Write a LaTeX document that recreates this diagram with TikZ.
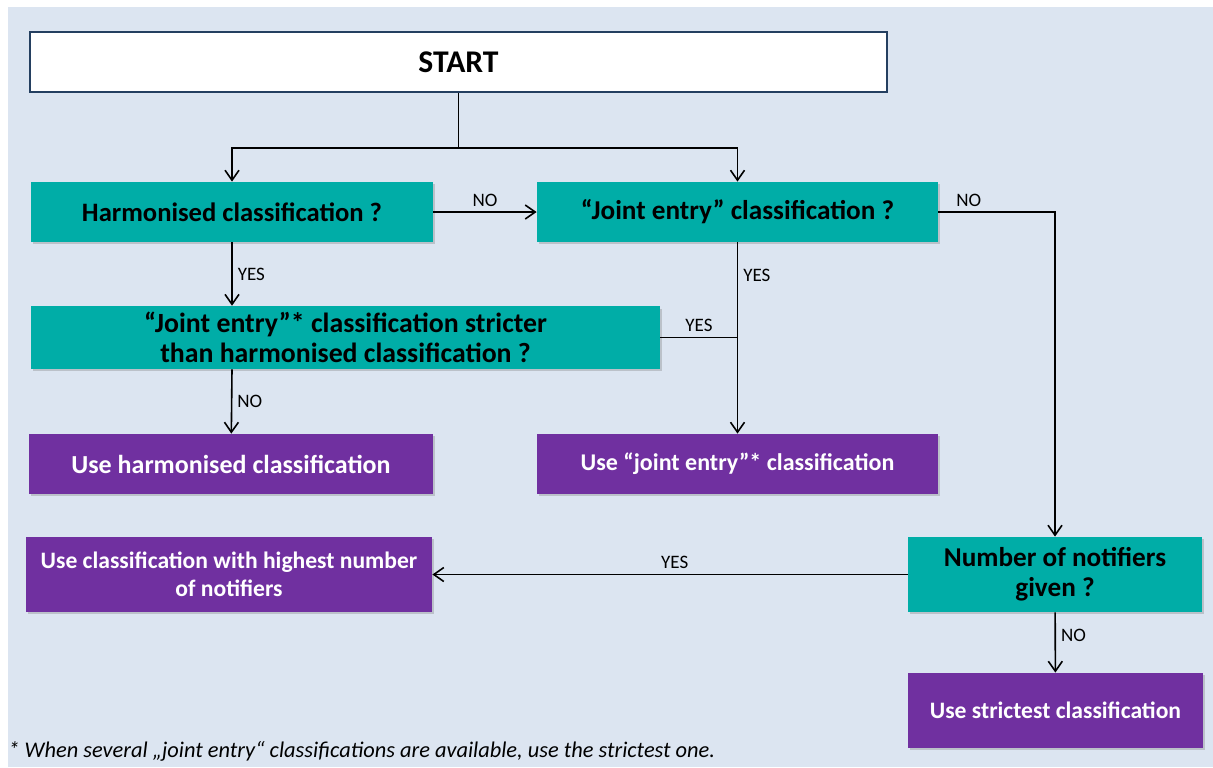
\documentclass[tikz,border=0pt]{standalone}
\usepackage{fontspec}
\setmainfont{Carlito}
\usetikzlibrary{arrows.meta,positioning,shadows}
\definecolor{bg}{HTML}{DCE5F1}
\definecolor{navy}{HTML}{243F60}
\definecolor{qcol}{HTML}{00ADA7}
\definecolor{ucol}{HTML}{7030A0}
\newcommand{\bsize}[1]{\bfseries\fontsize{#1}{15}\selectfont}
\tikzset{
  box/.style={align=center,inner sep=3pt,font=\bsize{13.3},
    drop shadow={shadow xshift=1.2pt,shadow yshift=-1.2pt,opacity=0.35}},
  qbox/.style={box,fill=qcol,text=black},
  ubox/.style={box,fill=ucol,text=white},
  ar/.style={-{Straight Barb[length=5pt,width=7pt]},thick},
  ln/.style={thick},
  lbl/.style={font=\fontsize{9.5}{11}\selectfont,inner sep=2.5pt},
}

\begin{document}
\begin{tikzpicture}[x=0.5pt,y=-0.5pt]
\useasboundingbox (0,0) rectangle (1213,767);
\fill[bg] (8,7) rectangle (1213,767);
% boxes
\node[draw=navy,thick,fill=white,minimum width=428.5pt,minimum height=30pt,
  font=\bsize{15.8}] (start) at (458.5,62) {START};
\node[qbox,minimum width=201pt,minimum height=30pt] (harm) at (232,212) {Harmonised classification ?};
\node[qbox,minimum width=200.5pt,minimum height=30pt,font=\bsize{13.6}] (joint) at (737.5,212) {“Joint entry” classification ?};
\node[qbox,minimum width=314.5pt,minimum height=30.5pt,font=\bsize{13.9}] (strict) at (345.5,337.5)
  {“Joint entry”* classification stricter\\than harmonised classification ?};
\node[ubox,minimum width=202pt,minimum height=30pt,font=\bsize{13}] (useh) at (231,464) {Use harmonised classification};
\node[ubox,minimum width=200.5pt,minimum height=30pt,font=\bsize{12}] (usej) at (737.5,464) {Use “joint entry”* classification};
\node[ubox,minimum width=203pt,minimum height=37.5pt,font=\bfseries\fontsize{11.8}{14}\selectfont] (usehigh) at (229,574.5)
  {Use classification with highest number\\of notifiers};
\node[qbox,minimum width=147pt,minimum height=37.5pt,font=\bsize{13.6}] (num) at (1055,574.5) {Number of notifiers\\given ?};
\node[ubox,minimum width=147.5pt,minimum height=37.5pt,font=\bsize{11.8}] (usestr) at (1055.5,710.5) {Use strictest classification};
\node[anchor=west,inner sep=0pt,font=\itshape\fontsize{11.2}{13}\selectfont] (note) at (8,751)
  {* When several „joint entry“ classifications are available, use the strictest one.};
% connectors
\coordinate (split) at (458.5,148);
\coordinate (jn) at (737.5,337.5);
\draw[ln] (start) -- (split);
\draw[ar] (split) -| (harm);
\draw[ar] (split) -| (joint);
\draw[ar] (harm) -- node[lbl,above] {NO} (joint);
\draw[ar] (joint) -| node[lbl,above,pos=0.13] {NO} (num);
\draw[ar] (harm) -- node[lbl,right,midway] {YES} (strict.north -| harm);
\draw[ar] (joint) -- node[lbl,right,pos=0.17] {YES} (usej);
\draw[ln] (strict) -- node[lbl,above] {YES} (jn);
\draw[ar] (strict.south -| harm) -- node[lbl,right] {NO} (useh);
\draw[ar] (num) -- node[lbl,above,pos=0.49] {YES} (usehigh);
\draw[ar] (num) -- node[lbl,right,pos=0.38] {NO} (usestr);
\end{tikzpicture}
\end{document}
